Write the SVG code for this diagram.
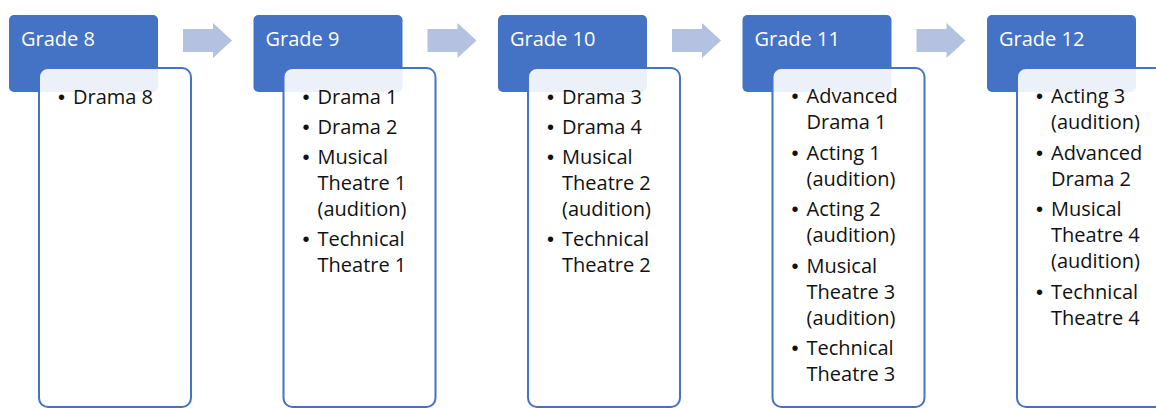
<svg xmlns="http://www.w3.org/2000/svg" width="1156" height="408" viewBox="0 0 1156 408">
<defs>
<style>
.hdr{fill:#4472C4;}
.box{fill:#FFFFFF;fill-opacity:0.9;stroke:#4472C4;stroke-width:2;}
.arr{fill:#B4C1E1;}
.ht{font-family:"Open Sans","Noto Sans",sans-serif;font-size:20px;fill:#FFFFFF;}
.bt{font-family:"Open Sans","Noto Sans",sans-serif;font-size:20px;fill:#111111;}
.b{font-family:"Liberation Sans",sans-serif;font-size:20px;}
</style>
</defs>
<rect width="1156" height="408" fill="#FFFFFF"/>
<g id="connectors">
<path class="arr" d="M183,29 H213 V23 L232,40.5 L213,58 V52 H183 Z"/>
<path class="arr" d="M427.5,29 H457.5 V23 L476.5,40.5 L457.5,58 V52 H427.5 Z"/>
<path class="arr" d="M672,29 H702 V23 L721,40.5 L702,58 V52 H672 Z"/>
<path class="arr" d="M916.5,29 H946.5 V23 L965.5,40.5 L946.5,58 V52 H916.5 Z"/>
</g>
<g id="grade8">
<rect class="hdr" x="9" y="15" width="149" height="77" rx="5"/>
<rect class="box" x="39" y="68" width="152" height="339" rx="9"/>
<text class="ht" x="21" y="46">Grade 8</text>
<text class="bt"><tspan class="b" x="58" y="104">•</tspan><tspan x="73" y="104">Drama 8</tspan></text>
</g>
<g id="grade9">
<rect class="hdr" x="253.5" y="15" width="149" height="77" rx="5"/>
<rect class="box" x="283.5" y="68" width="152" height="339" rx="9"/>
<text class="ht" x="265.5" y="46">Grade 9</text>
<text class="bt">
<tspan class="b" x="302.5" y="104">•</tspan><tspan x="317.5" y="104">Drama 1</tspan>
<tspan class="b" x="302.5" y="134">•</tspan><tspan x="317.5" y="134">Drama 2</tspan>
<tspan class="b" x="302.5" y="164">•</tspan><tspan x="317.5" y="164">Musical</tspan>
<tspan x="317.5" y="190">Theatre 1</tspan>
<tspan x="317.5" y="216">(audition)</tspan>
<tspan class="b" x="302.5" y="246">•</tspan><tspan x="317.5" y="246">Technical</tspan>
<tspan x="317.5" y="272">Theatre 1</tspan>
</text>
</g>
<g id="grade10">
<rect class="hdr" x="498" y="15" width="149" height="77" rx="5"/>
<rect class="box" x="528" y="68" width="152" height="339" rx="9"/>
<text class="ht" x="510" y="46">Grade 10</text>
<text class="bt">
<tspan class="b" x="547" y="104">•</tspan><tspan x="562" y="104">Drama 3</tspan>
<tspan class="b" x="547" y="134">•</tspan><tspan x="562" y="134">Drama 4</tspan>
<tspan class="b" x="547" y="164">•</tspan><tspan x="562" y="164">Musical</tspan>
<tspan x="562" y="190">Theatre 2</tspan>
<tspan x="562" y="216">(audition)</tspan>
<tspan class="b" x="547" y="246">•</tspan><tspan x="562" y="246">Technical</tspan>
<tspan x="562" y="272">Theatre 2</tspan>
</text>
</g>
<g id="grade11">
<rect class="hdr" x="742.5" y="15" width="149" height="77" rx="5"/>
<rect class="box" x="772.5" y="68" width="152" height="339" rx="9"/>
<text class="ht" x="754.5" y="46">Grade 11</text>
<text class="bt">
<tspan class="b" x="791.5" y="103">•</tspan><tspan x="806.5" y="103">Advanced</tspan>
<tspan x="806.5" y="129">Drama 1</tspan>
<tspan class="b" x="791.5" y="160">•</tspan><tspan x="806.5" y="160">Acting 1</tspan>
<tspan x="806.5" y="186">(audition)</tspan>
<tspan class="b" x="791.5" y="216">•</tspan><tspan x="806.5" y="216">Acting 2</tspan>
<tspan x="806.5" y="242">(audition)</tspan>
<tspan class="b" x="791.5" y="273">•</tspan><tspan x="806.5" y="273">Musical</tspan>
<tspan x="806.5" y="299">Theatre 3</tspan>
<tspan x="806.5" y="325">(audition)</tspan>
<tspan class="b" x="791.5" y="355">•</tspan><tspan x="806.5" y="355">Technical</tspan>
<tspan x="806.5" y="381">Theatre 3</tspan>
</text>
</g>
<g id="grade12">
<rect class="hdr" x="987" y="15" width="149" height="77" rx="5"/>
<rect class="box" x="1017" y="68" width="152" height="339" rx="9"/>
<text class="ht" x="999" y="46">Grade 12</text>
<text class="bt">
<tspan class="b" x="1036" y="103">•</tspan><tspan x="1051" y="103">Acting 3</tspan>
<tspan x="1051" y="129">(audition)</tspan>
<tspan class="b" x="1036" y="160">•</tspan><tspan x="1051" y="160">Advanced</tspan>
<tspan x="1051" y="186">Drama 2</tspan>
<tspan class="b" x="1036" y="216">•</tspan><tspan x="1051" y="216">Musical</tspan>
<tspan x="1051" y="242">Theatre 4</tspan>
<tspan x="1051" y="268">(audition)</tspan>
<tspan class="b" x="1036" y="299">•</tspan><tspan x="1051" y="299">Technical</tspan>
<tspan x="1051" y="325">Theatre 4</tspan>
</text>
</g>
</svg>
